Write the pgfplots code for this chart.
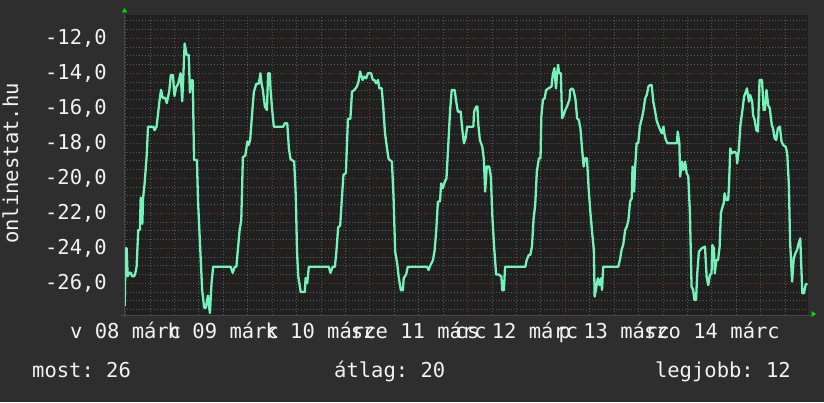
\documentclass[border=0pt]{standalone}
\usepackage{pgfplots}
\pgfplotsset{compat=1.18}
\usepackage{fontspec}
\setmainfont{DejaVu Sans Mono}
\frenchspacing
\definecolor{bgout}{HTML}{2E2E2E}
\definecolor{bgplot}{HTML}{202020}
\definecolor{gridminor}{HTML}{585858}
\definecolor{gridmajor}{HTML}{7A3636}
\definecolor{linec}{HTML}{74F2B8}
\definecolor{arrowg}{HTML}{00DD00}
\definecolor{axisc}{HTML}{464646}
\definecolor{txt}{HTML}{F2F2F2}
\begin{document}
\begin{tikzpicture}[x=1pt,y=1pt]
\fill[bgout] (0,0) rectangle (824,402);
\begin{axis}[
  at={(124pt,87pt)}, anchor=south west,
  width=684pt, height=300pt, scale only axis,
  xmin=0, xmax=168, ymin=-27.81, ymax=-10.67,
  axis background/.style={fill=bgplot},
  axis line style={draw=none},
  major tick length=0pt, minor tick length=0pt,
  tick label style={font=\fontsize{20.5}{24}\selectfont\frenchspacing, text=txt},
  xtick={12.4,36.4,60.4,84.4,108.4,132.4,156.4},
  xticklabels={},
  minor xtick={0.4,6.4,...,162.5},
  extra x ticks={0.4,24.4,48.4,72.4,96.4,120.4,144.4},
  extra x tick labels={v 08 márc,h 09 márc,k 10 márc,sze 11 márc,cs 12 márc,p 13 márc,szo 14 márc},
  extra x tick style={grid=none, xticklabel style={anchor=base, inner sep=0pt, yshift=-23.5pt}},
  ytick={-26,-24,-22,-20,-18,-16,-14,-12},
  yticklabels={{-26,0},{-24,0},{-22,0},{-20,0},{-18,0},{-16,0},{-14,0},{-12,0}},
  minor ytick={-27.5,-27,...,-10.9},
  yticklabel style={anchor=east, inner sep=0pt, xshift=-17pt},
  grid=both,
  minor grid style={gridminor, dash pattern=on 1pt off 2pt, line width=1pt},
  major grid style={gridmajor, dash pattern=on 1pt off 2pt, line width=1pt},
]
\addplot[linec, line width=2.3pt, line join=round] coordinates {
(0.17,-27.3) (0.4,-24.0) (0.66,-24.0) (0.9,-25.6) (1.3,-25.4) (1.7,-25.4) (2.0,-25.6) (2.5,-25.6) (2.8,-25.4) (3.1,-25.05) (3.5,-22.95) (3.9,-22.95) (4.1,-21.1) (4.5,-22.6) (4.7,-21.1) (5.1,-20.2) (5.6,-18.6) (5.9,-17.05) (7.2,-17.05) (7.5,-17.25) (8.0,-17.05) (8.7,-15.6) (9.1,-14.95) (9.5,-15.4) (10.1,-15.4) (10.5,-15.7) (11.1,-15.05) (11.5,-14.1) (12.0,-14.1) (12.4,-15.3) (12.8,-14.8) (13.3,-14.6) (13.9,-14.0) (14.3,-15.6) (14.6,-14.0) (14.9,-12.3) (15.4,-12.95) (15.9,-12.95) (16.2,-15.1) (16.6,-14.4) (16.9,-14.4) (17.2,-18.95) (17.9,-18.95) (18.2,-21.4) (18.7,-23.9) (19.2,-26.4) (19.7,-27.4) (20.1,-27.4) (20.6,-26.7) (21.1,-27.7) (21.5,-26.0) (21.9,-25.05) (23.6,-25.05)
(26.2,-25.05) (26.7,-25.4) (27.2,-25.05) (27.6,-25.05) (28.0,-24.0) (28.4,-22.95) (28.8,-22.4) (29.2,-18.8) (29.8,-18.7) (30.3,-17.9) (30.6,-18.1) (31.0,-17.8) (31.4,-16.5) (31.9,-15.05) (32.5,-14.6) (33.1,-14.6) (33.5,-14.0) (33.8,-14.6) (34.1,-14.95) (34.6,-15.9) (35.1,-16.1) (35.4,-14.0) (35.8,-14.0) (36.0,-14.95) (36.4,-16.1) (36.8,-17.05) (39.1,-17.05) (39.5,-16.86) (40.1,-16.86) (40.5,-18.3) (40.9,-18.9) (41.8,-19.05) (42.2,-21.05) (42.5,-24.2) (42.8,-25.6) (43.4,-26.5) (44.4,-26.5) (44.6,-25.7) (45.0,-26.0) (45.4,-25.05)
(50.3,-25.05) (50.7,-25.4) (51.3,-25.05) (51.8,-25.05) (52.2,-24.1) (52.6,-22.8) (53.1,-22.7) (53.5,-21.2) (53.9,-19.8) (54.5,-19.7) (55.0,-16.6) (55.6,-16.6) (56.0,-15.05) (56.6,-14.95) (57.2,-14.76) (57.6,-14.48) (58.0,-13.9) (58.6,-14.38) (59.0,-14.19) (59.5,-14.29) (59.9,-14.0) (60.7,-14.0) (61.1,-14.38) (61.5,-14.38) (61.9,-14.57) (62.4,-14.38) (62.7,-14.86) (63.3,-14.86) (63.7,-16.0) (64.1,-17.4) (64.6,-18.3) (65.0,-18.9) (65.8,-19.05) (66.2,-21.05) (66.6,-24.2) (67.1,-24.86) (67.5,-25.7) (68.0,-26.4) (68.5,-26.4) (68.7,-25.7) (69.3,-25.5) (69.7,-25.05)
(74.4,-25.05) (74.8,-25.24) (75.3,-24.95) (75.9,-24.67) (76.3,-24.1) (76.7,-22.95) (77.1,-21.33) (77.6,-21.33) (77.9,-20.29) (78.3,-20.57) (78.8,-20.19) (79.2,-20.0) (79.6,-18.29) (80.1,-16.1) (80.5,-14.95) (81.2,-14.95) (81.6,-15.62) (82.0,-16.19) (82.7,-16.19) (83.1,-17.24) (83.5,-18.0) (83.9,-17.71) (84.3,-17.05) (85.8,-17.05) (86.0,-16.19) (86.5,-15.9) (86.8,-15.9) (87.0,-16.86) (87.4,-17.81) (88.0,-18.19) (88.4,-18.95) (88.7,-20.76) (89.1,-19.33) (89.7,-19.33) (90.1,-19.9) (90.5,-22.3) (90.9,-23.9) (91.4,-25.5) (92.1,-25.5) (92.7,-25.62) (92.9,-26.4) (93.3,-26.4) (93.6,-25.05)
(98.6,-25.05) (98.9,-24.67) (99.4,-24.38) (99.8,-24.38) (100.2,-23.9) (100.6,-22.3) (101.0,-21.52) (101.4,-19.62) (101.9,-18.86) (102.3,-18.86) (102.5,-16.48) (102.9,-15.52) (103.3,-15.43) (103.7,-14.95) (104.3,-14.86) (105.0,-14.76) (105.3,-14.1) (105.7,-13.71) (106.1,-14.86) (106.4,-14.0) (106.6,-13.52) (106.9,-14.0) (107.3,-14.0) (107.6,-16.57) (108.0,-16.38) (108.4,-16.1) (108.8,-15.9) (109.4,-15.52) (109.6,-14.95) (110.0,-14.86) (110.4,-14.95) (110.9,-15.52) (111.3,-16.57) (111.7,-16.67) (112.1,-17.14) (112.5,-18.29) (112.9,-19.33) (113.2,-18.86) (113.7,-18.86) (114.1,-20.48) (114.5,-21.81) (115.0,-23.14) (115.4,-24.1) (115.6,-26.76) (115.9,-26.38) (116.4,-25.71) (116.8,-26.1) (117.2,-25.71) (117.4,-26.38) (117.7,-25.05)
(121.4,-25.05) (121.8,-24.67) (122.2,-24.1) (122.6,-23.81) (123.1,-22.95) (123.5,-22.76) (123.9,-22.38) (124.3,-21.33) (124.7,-21.14) (124.9,-19.33) (125.3,-20.76) (125.5,-19.52) (125.9,-18.0) (126.3,-18.0) (126.7,-17.05) (127.2,-16.57) (127.6,-16.1) (128.0,-15.43) (128.4,-15.24) (128.8,-14.76) (129.2,-14.67) (129.6,-14.67) (130.0,-15.62) (130.4,-16.1) (130.8,-16.67) (131.2,-16.95) (131.7,-17.24) (132.1,-17.43) (132.5,-17.05) (132.7,-17.43) (133.1,-17.81) (133.5,-18.0) (135.8,-18.0) (136.0,-17.33) (136.4,-18.0) (136.6,-19.9) (137.0,-19.05) (137.4,-19.52) (137.8,-19.05) (138.2,-19.71) (138.6,-19.9) (139.0,-22.0) (139.4,-26.19) (139.8,-26.38) (140.1,-26.95) (140.5,-26.95) (140.8,-25.43) (141.2,-24.19) (141.9,-24.0) (142.7,-23.9) (143.1,-25.62)
(143.5,-26.1) (143.9,-25.52) (144.3,-25.43) (144.5,-23.81) (144.9,-24.0) (145.1,-25.43) (145.5,-24.67) (145.9,-24.67) (146.3,-23.9) (146.6,-22.0) (146.9,-21.71) (147.3,-21.43) (147.5,-20.86) (147.9,-21.24) (148.4,-21.24) (148.6,-20.38) (148.9,-18.29) (149.3,-18.57) (150.0,-18.48) (150.4,-18.57) (150.6,-19.14) (151.0,-18.38) (151.4,-16.95) (151.9,-16.1) (152.3,-15.33) (152.6,-15.14) (153.0,-14.86) (153.5,-15.62) (153.8,-15.24) (154.3,-15.62) (154.5,-16.38) (154.9,-16.67) (155.3,-17.24) (155.7,-17.33) (156.1,-14.38) (156.7,-14.38) (157.1,-16.1) (157.4,-16.1) (157.8,-14.95) (158.2,-15.81) (158.6,-16.0) (159.1,-16.95) (159.4,-17.14) (159.8,-17.71) (160.2,-17.81) (160.6,-17.14) (161.1,-17.05) (161.5,-17.9) (161.9,-18.1) (162.5,-18.19) (162.9,-18.57) (163.3,-20.38) (163.6,-23.62) (164.1,-25.9) (164.5,-24.57) (164.9,-24.29) (165.3,-24.1) (165.7,-23.71) (166.1,-23.43) (166.6,-26.57) (167.0,-26.57) (167.4,-26.1) (167.8,-26.0)
};
\end{axis}
\draw[axisc, line width=1pt] (121,87) -- (811,87);
\draw[axisc, line width=1pt] (124,84) -- (124,389);
\fill[arrowg] (121.7,389.5) -- (127.3,389.5) -- (124.5,394) -- cycle;
\fill[arrowg] (811.5,85) -- (811.5,91) -- (816,88) -- cycle;
\node[rotate=90, inner sep=0pt, text=txt, font=\fontsize{20.5}{24}\selectfont] at (10.4,238.5) {onlinestat.hu};
\node[anchor=base west, inner sep=0pt, text=txt, font=\fontsize{20.5}{24}\selectfont\frenchspacing] at (32,25) {most: 26};
\node[anchor=base west, inner sep=0pt, text=txt, font=\fontsize{20.5}{24}\selectfont\frenchspacing] at (334,25) {átlag: 20};
\node[anchor=base east, inner sep=0pt, text=txt, font=\fontsize{20.5}{24}\selectfont\frenchspacing] at (791,25) {legjobb: 12};
\useasboundingbox (0,0) rectangle (824,402);
\end{tikzpicture}
\end{document}
